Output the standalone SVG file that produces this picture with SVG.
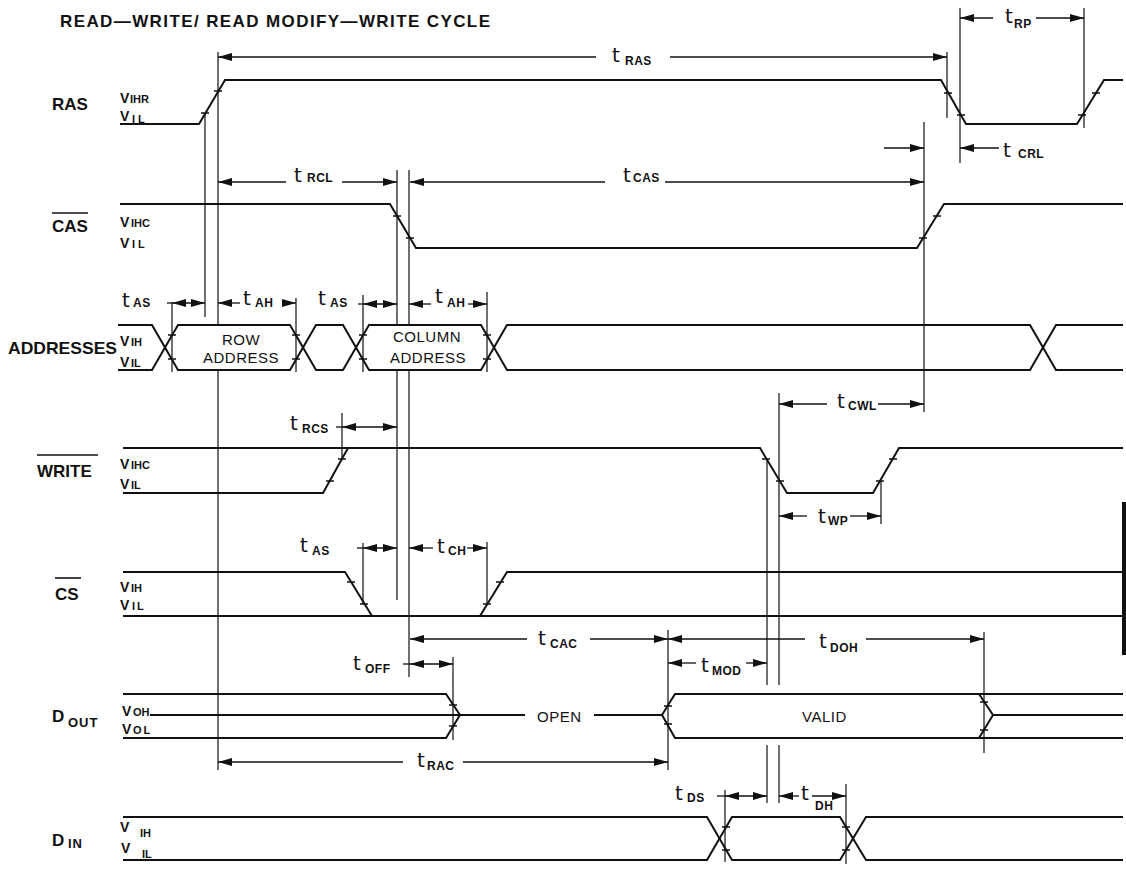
<svg xmlns="http://www.w3.org/2000/svg" width="1126" height="876" viewBox="0 0 1126 876">
<style>
text{font-family:"Liberation Sans",Arial,sans-serif;fill:#111}
.ti{font-size:17px;font-weight:bold}
.sn{font-size:17px;font-weight:bold}
.v{font-size:14px;font-weight:bold}
.vs{font-size:11px;font-weight:bold}
.t{font-size:20px;font-family:"DejaVu Sans",sans-serif}
.ts{font-size:12px;font-weight:bold;letter-spacing:0.5px;font-family:"Liberation Sans",Arial,sans-serif}
.bx{font-size:15px;letter-spacing:0.5px}
.sig{fill:none;stroke:#111;stroke-width:2;stroke-linejoin:miter}
.tk{stroke:#111;stroke-width:1.5}
.g{stroke:#111;stroke-width:1.2;fill:none}
.dm{stroke:#111;stroke-width:1.3;fill:none}
.a1{marker-end:url(#ah)}
.a2{marker-start:url(#ah);marker-end:url(#ah)}
.ol{stroke:#111;stroke-width:1.6}
</style>
<defs>
<marker id="ah" viewBox="0 0 14 8" refX="14" refY="4" markerWidth="14" markerHeight="8" markerUnits="userSpaceOnUse" orient="auto-start-reverse"><path d="M0,0 L14,4 L0,8 z" fill="#111"/></marker>
</defs>
<rect width="1126" height="876" fill="#fff"/>
<text class="ti" x="60" y="27" textLength="430" lengthAdjust="spacing">READ—WRITE/ READ MODIFY—WRITE CYCLE</text>

<g id="ras">
<text class="sn" x="52" y="110">RAS</text>
<text class="v" x="120" y="103">V<tspan class="vs" x="130">IHR</tspan></text>
<text class="v" x="120" y="121">V<tspan class="vs" x="132" y="123" letter-spacing="3">IL</tspan></text>
<polyline class="sig" points="120,124 199,124 225,80 941,80 966,124 1077,124 1104,80 1123,80"/>
<path class="tk" d="M201,113h8M214,91h8M944,93h8M957,115h8M1078,115h8M1092,93h8"/>
</g>

<g id="cas">
<text class="sn" x="52" y="232">CAS</text>
<line class="ol" x1="52" y1="213" x2="88" y2="213"/>
<text class="v" x="120" y="227">V<tspan class="vs" x="131">IHC</tspan></text>
<text class="v" x="120" y="248">V<tspan class="vs" x="132" letter-spacing="3">IL</tspan></text>
<polyline class="sig" points="120,204 390,204 416,248 917,248 944,204 1123,204"/>
<path class="tk" d="M393,216h8M406,238h8M919,238h8M933,216h8"/>
</g>

<g id="addresses">
<text class="sn" x="8" y="354" textLength="109" lengthAdjust="spacingAndGlyphs">ADDRESSES</text>
<text class="v" x="120" y="346">V<tspan class="vs" x="131">IH</tspan></text>
<text class="v" x="120" y="367">V<tspan class="vs" x="131">IL</tspan></text>
<path class="sig" d="M118,325H152L178,370H290L316,325H343L369,370H481L507,325H1030L1056,370H1123"/>
<path class="sig" d="M118,370H152L178,325H290L316,370H343L369,325H481L507,370H1030L1056,325H1123"/>
<path class="tk" d="M168,335h8M168,359h8M292,335h8M292,359h8M359,335h8M359,359h8M483,335h8M483,359h8"/>
<text class="bx" x="241" y="345" text-anchor="middle">ROW</text>
<text class="bx" x="241" y="363" text-anchor="middle">ADDRESS</text>
<text class="bx" x="427" y="342" text-anchor="middle">COLUMN</text>
<text class="bx" x="428" y="363" text-anchor="middle">ADDRESS</text>
</g>

<g id="write">
<text class="sn" x="37" y="477">WRITE</text>
<line class="ol" x1="37" y1="455" x2="98" y2="455"/>
<text class="v" x="120" y="469">V<tspan class="vs" x="131">IHC</tspan></text>
<text class="v" x="120" y="489">V<tspan class="vs" x="131">IL</tspan></text>
<polyline class="sig" points="123,448 760,448 787,493 873,493 899,448 1123,448"/>
<polyline class="sig" points="123,493 323,493 348,448"/>
<path class="tk" d="M326,481h8M338,459h8M762,459h8M776,481h8M876,481h8M889,459h8"/>
</g>

<g id="cs">
<text class="sn" x="55" y="600">CS</text>
<line class="ol" x1="55" y1="578" x2="81" y2="578"/>
<text class="v" x="120" y="592">V<tspan class="vs" x="131">IH</tspan></text>
<text class="v" x="120" y="610">V<tspan class="vs" x="132" letter-spacing="2">IL</tspan></text>
<polyline class="sig" points="123,572 345,572 372,616"/>
<line class="sig" x1="123" y1="616" x2="1123" y2="616"/>
<polyline class="sig" points="480,616 507,572 1123,572"/>
<path class="tk" d="M347,582h8M360,604h8M483,604h8M496,582h8"/>
</g>

<g id="dout">
<text class="sn" x="52" y="722">D<tspan font-size="13" x="68" y="727" letter-spacing="1">OUT</tspan></text>
<text class="v" x="122" y="716">V<tspan class="vs" x="133">OH</tspan></text>
<text class="v" x="122" y="734">V<tspan class="vs" x="133" letter-spacing="2">OL</tspan></text>
<polyline class="sig" points="123,694 446,694 460,715 446,738 123,738"/>
<line class="sig" x1="150" y1="715" x2="525" y2="715" stroke-width="1.6"/>
<line class="sig" x1="594" y1="715" x2="662" y2="715" stroke-width="1.6"/>
<polyline class="sig" points="1123,694 675,694 662,715 675,738 1123,738"/>
<polyline class="sig" points="979,694 993,715 979,738"/>
<line class="sig" x1="993" y1="715" x2="1123" y2="715" stroke-width="1.6"/>
<path class="tk" d="M449,705h8M449,726h8M664,706h8M664,724h8M980,702h8M980,730h8"/>
<text class="bx" x="537" y="722" letter-spacing="1.5">OPEN</text>
<text class="bx" x="802" y="722" letter-spacing="2">VALID</text>
</g>

<g id="din">
<text class="sn" x="52" y="846">D<tspan font-size="13" x="68" y="848" letter-spacing="1">IN</tspan></text>
<text class="v" x="120" y="832">V<tspan class="vs" x="140" y="837">IH</tspan></text>
<text class="v" x="121" y="853">V<tspan class="vs" x="142" y="858">IL</tspan></text>
<path class="sig" d="M123,817H707L732,860H840L866,817H1123"/>
<path class="sig" d="M123,860H707L732,817H840L866,860H1123"/>
<path class="tk" d="M722,827h8M722,850h8M842,827h8M842,850h8"/>
</g>

<g id="guides">
<path class="g" d="M205,113V317M218,52V325M218,370V770M172,302V372M296,298V372M342,413V460M363,295V372M363,543V604M397,170V325M397,370V600M409,170V325M409,370V677M487,292V372M487,542V604M668,630V770M767,459V685M767,745V803M779,393V685M779,745V803M881,481V524M924,122V412M947,52V118M960,8V163M1084,8V128M453,657V740M984,632V753M725,790V862M846,784V864"/>
</g>

<g id="connectors">
<line class="dm a1" x1="596" y1="57" x2="218" y2="57"/>
<line class="dm a1" x1="670" y1="57" x2="947" y2="57"/>
<line class="dm a1" x1="993" y1="18" x2="960" y2="18"/>
<line class="dm a1" x1="1036" y1="18" x2="1084" y2="18"/>
<line class="dm a1" x1="884" y1="148" x2="924" y2="148"/>
<line class="dm a1" x1="999" y1="148" x2="960" y2="148"/>
<line class="dm a1" x1="286" y1="182" x2="218" y2="182"/>
<line class="dm a1" x1="342" y1="182" x2="397" y2="182"/>
<line class="dm a1" x1="605" y1="182" x2="410" y2="182"/>
<line class="dm a1" x1="665" y1="182" x2="924" y2="182"/>
<line class="dm" x1="167" y1="303" x2="172" y2="303"/>
<line class="dm a2" x1="172" y1="303" x2="205" y2="303"/>
<line class="dm a1" x1="240" y1="303" x2="218" y2="303"/>
<line class="dm a1" x1="282" y1="303" x2="296" y2="303"/>
<line class="dm" x1="358" y1="304" x2="363" y2="304"/>
<line class="dm a2" x1="363" y1="304" x2="397" y2="304"/>
<line class="dm a1" x1="431" y1="304" x2="409" y2="304"/>
<line class="dm a1" x1="468" y1="304" x2="487" y2="304"/>
<line class="dm" x1="336" y1="427" x2="342" y2="427"/>
<line class="dm a2" x1="342" y1="427" x2="397" y2="427"/>
<line class="dm a1" x1="827" y1="404" x2="779" y2="404"/>
<line class="dm a1" x1="878" y1="404" x2="924" y2="404"/>
<line class="dm a1" x1="807" y1="516" x2="779" y2="516"/>
<line class="dm a1" x1="850" y1="516" x2="881" y2="516"/>
<line class="dm" x1="357" y1="548" x2="363" y2="548"/>
<line class="dm a2" x1="363" y1="548" x2="397" y2="548"/>
<line class="dm a1" x1="433" y1="548" x2="409" y2="548"/>
<line class="dm a1" x1="467" y1="548" x2="487" y2="548"/>
<line class="dm a1" x1="527" y1="639" x2="410" y2="639"/>
<line class="dm a1" x1="590" y1="639" x2="668" y2="639"/>
<line class="dm a1" x1="805" y1="639" x2="668" y2="639"/>
<line class="dm a1" x1="866" y1="639" x2="984" y2="639"/>
<line class="dm" x1="403" y1="664" x2="410" y2="664"/>
<line class="dm a2" x1="410" y1="664" x2="453" y2="664"/>
<line class="dm a1" x1="696" y1="663" x2="668" y2="663"/>
<line class="dm a1" x1="746" y1="663" x2="767" y2="663"/>
<line class="dm a1" x1="403" y1="762" x2="218" y2="762"/>
<line class="dm a1" x1="463" y1="762" x2="668" y2="762"/>
<line class="dm" x1="717" y1="796" x2="725" y2="796"/>
<line class="dm a2" x1="725" y1="796" x2="767" y2="796"/>
<line class="dm a1" x1="799" y1="796" x2="779" y2="796"/>
<line class="dm a1" x1="812" y1="796" x2="846" y2="796"/>
</g>

<g id="labels">
<text class="t" x="612" y="62">t<tspan class="ts" x="625" y="65">RAS</tspan></text>
<text class="t" x="1005" y="23">t<tspan class="ts" x="1014" y="28">RP</tspan></text>
<text class="t" x="1003" y="157">t<tspan class="ts" x="1018" y="158" font-size="13" letter-spacing="2">CRL</tspan></text>
<text class="t" x="294" y="182">t<tspan class="ts" x="307" y="182">RCL</tspan></text>
<text class="t" x="623" y="182">t<tspan class="ts" x="633" y="182">CAS</tspan></text>
<text class="t" x="122" y="307">t<tspan class="ts" x="133" y="307">AS</tspan></text>
<text class="t" x="243" y="305">t<tspan class="ts" x="255" y="307">AH</tspan></text>
<text class="t" x="318" y="305">t<tspan class="ts" x="330" y="307">AS</tspan></text>
<text class="t" x="435" y="303">t<tspan class="ts" x="447" y="307">AH</tspan></text>
<text class="t" x="290" y="430">t<tspan class="ts" x="302" y="433">RCS</tspan></text>
<text class="t" x="837" y="408">t<tspan class="ts" x="848" y="410">CWL</tspan></text>
<text class="t" x="818" y="523">t<tspan class="ts" x="828" y="525">WP</tspan></text>
<text class="t" x="300" y="552">t<tspan class="ts" x="312" y="555">AS</tspan></text>
<text class="t" x="437" y="553">t<tspan class="ts" x="448" y="555">CH</tspan></text>
<text class="t" x="538" y="645">t<tspan class="ts" x="550" y="648">CAC</tspan></text>
<text class="t" x="353" y="670">t<tspan class="ts" x="365" y="673">OFF</tspan></text>
<text class="t" x="701" y="672">t<tspan class="ts" x="712" y="675">MOD</tspan></text>
<text class="t" x="819" y="648">t<tspan class="ts" x="830" y="652">DOH</tspan></text>
<text class="t" x="417" y="767">t<tspan class="ts" x="427" y="770">RAC</tspan></text>
<text class="t" x="675" y="800">t<tspan class="ts" x="687" y="802">DS</tspan></text>
<text class="t" x="801" y="800">t<tspan class="ts" x="815" y="810">DH</tspan></text>
</g>

<rect x="1122" y="502" width="4" height="153" fill="#111"/>
</svg>
